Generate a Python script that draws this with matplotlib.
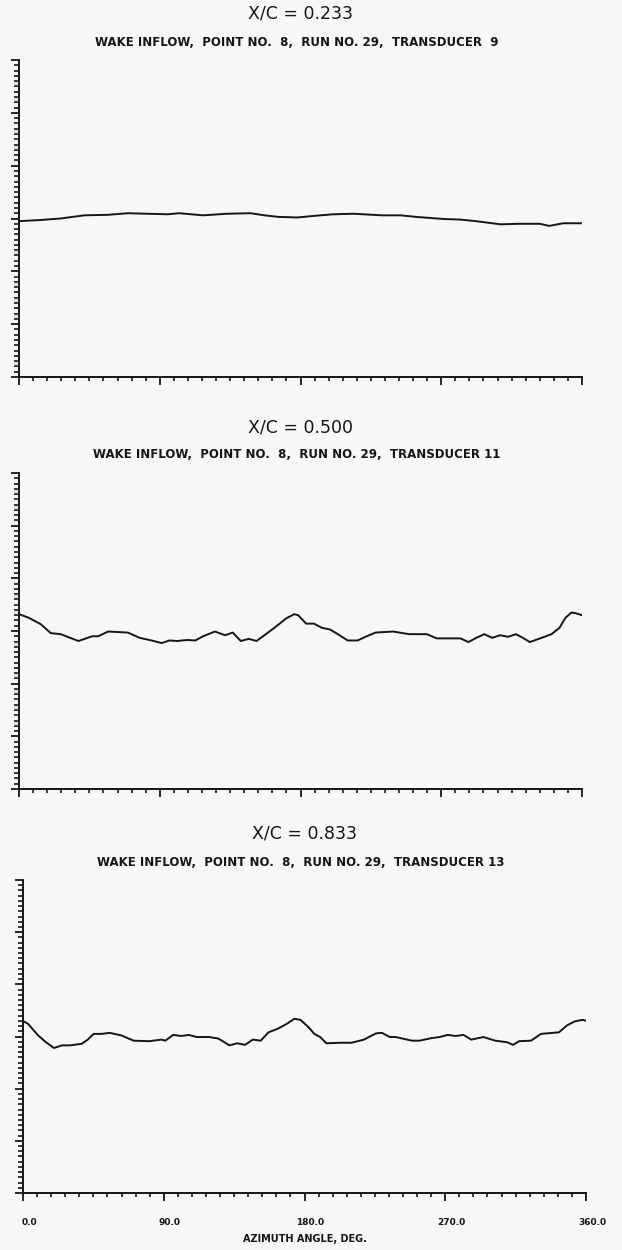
import matplotlib
matplotlib.use("Agg")
import matplotlib.pyplot as plt
from matplotlib.ticker import MultipleLocator, NullFormatter
from matplotlib.transforms import ScaledTranslation

# azimuth (deg) and inflow for each transducer
az_9 = [0, 13, 26.6, 41.8, 57, 69.6, 82, 95, 102.5, 117.7, 133, 148, 157, 166,
        178, 189, 201, 214, 232, 244, 254, 263, 272, 282, 292, 308, 320, 333,
        339, 348, 360]
val_9 = [-0.05, -0.03, 0.0, 0.06, 0.07, 0.10, 0.09, 0.08, 0.10, 0.06, 0.09,
         0.10, 0.06, 0.03, 0.02, 0.05, 0.08, 0.09, 0.06, 0.06, 0.03, 0.01,
         -0.01, -0.02, -0.05, -0.11, -0.10, -0.10, -0.14, -0.09, -0.09]

az_11 = [0, 6.3, 13.9, 20.3, 26.6, 38, 46.8, 50.6, 57, 69.6, 77.2, 84.8, 91.2,
         96.2, 101.3, 107.6, 112.7, 117.7, 125.3, 131.7, 136.7, 141.8, 146.9,
         151.9, 163.3, 170.9, 176, 178.5, 183.6, 188.6, 193.7, 198.8, 203.8,
         210.2, 216.5, 221.6, 227.9, 239.3, 249.4, 260.8, 267.1, 282.3, 287.4,
         292.4, 297.5, 302.6, 307.6, 312.7, 317.8, 322.8, 326.6, 334.2, 340.5,
         345.6, 349.4, 353.2, 355.7, 360]
val_11 = [0.32, 0.25, 0.13, -0.04, -0.06, -0.19, -0.10, -0.10, -0.01, -0.03,
          -0.13, -0.18, -0.23, -0.18, -0.19, -0.17, -0.18, -0.10, -0.01, -0.08,
          -0.03, -0.19, -0.15, -0.19, 0.06, 0.24, 0.32, 0.30, 0.14, 0.14, 0.06,
          0.03, -0.06, -0.18, -0.18, -0.11, -0.03, -0.01, -0.06, -0.06, -0.14,
          -0.14, -0.21, -0.13, -0.06, -0.13, -0.08, -0.11, -0.06, -0.14, -0.21,
          -0.13, -0.06, 0.06, 0.25, 0.35, 0.34, 0.30]

az_13 = [0, 3.3, 9.7, 14.7, 19.8, 24.9, 30, 37.6, 41.4, 45.2, 50.3, 55.4, 63,
         70.7, 80.8, 88.5, 91, 96, 101, 106, 111, 119, 125, 132, 137, 142, 147,
         152, 157, 163, 168.5, 173.6, 177.4, 182.5, 186.3, 190, 194, 203, 210,
         218, 225.7, 229.5, 234.6, 238.4, 248.6, 253.7, 261.3, 266.4, 271.5,
         276.6, 281.7, 286.7, 294.4, 302, 309.6, 313.4, 317.2, 324.9, 331.2,
         338.8, 342.7, 347.7, 352.8, 357.9, 360]
val_13 = [0.30, 0.24, 0.02, -0.11, -0.22, -0.17, -0.17, -0.14, -0.06, 0.05,
          0.05, 0.07, 0.02, -0.08, -0.09, -0.06, -0.08, 0.03, 0.01, 0.03,
          -0.01, -0.01, -0.04, -0.17, -0.13, -0.16, -0.06, -0.08, 0.08, 0.15,
          0.24, 0.34, 0.32, 0.18, 0.05, -0.01, -0.13, -0.12, -0.12, -0.06,
          0.06, 0.07, -0.01, -0.01, -0.08, -0.08, -0.03, -0.01, 0.03, 0.01,
          0.03, -0.06, -0.01, -0.08, -0.11, -0.16, -0.09, -0.08, 0.05, 0.07,
          0.08, 0.21, 0.29, 0.32, 0.30]

titles = ["X/C = 0.233", "X/C = 0.500", "X/C = 0.833"]
subtitles = ["WAKE INFLOW,  POINT NO.  8,  RUN NO. 29,  TRANSDUCER  9",
             "WAKE INFLOW,  POINT NO.  8,  RUN NO. 29,  TRANSDUCER 11",
             "WAKE INFLOW,  POINT NO.  8,  RUN NO. 29,  TRANSDUCER 13"]
xticks = [0, 90, 180, 270, 360]

W, H = 622, 1250
bg = "#f7f7f7"
ink = "#151515"
fig = plt.figure(figsize=(W / 100, H / 100), dpi=100, facecolor=bg)

# panel boxes in pixels: left, right, top, bottom
boxes = [(19, 582, 60, 377), (19, 582, 473, 789), (23, 586, 880, 1193)]
series = [(az_9, val_9), (az_11, val_11), (az_13, val_13)]

for i, ((l, r, t, b), (x, y)) in enumerate(zip(boxes, series)):
    ax = fig.add_axes([l / W, 1 - b / H, (r - l) / W, (b - t) / H])
    ax.set_facecolor(bg)
    ax.plot(x, y, color=ink, lw=1.4, solid_joinstyle="round")
    ax.set_xlim(0, 360)
    ax.set_ylim(-3, 3)
    for s in ("top", "right"):
        ax.spines[s].set_visible(False)
    for s in ("left", "bottom"):
        ax.spines[s].set_linewidth(1.4)
        ax.spines[s].set_color(ink)
    ax.xaxis.set_major_locator(MultipleLocator(90))
    ax.xaxis.set_minor_locator(MultipleLocator(9))
    ax.yaxis.set_major_locator(MultipleLocator(1))
    ax.yaxis.set_minor_locator(MultipleLocator(0.1))
    ax.tick_params(axis="x", which="major", direction="out", length=6,
                   width=1.3, color=ink)
    ax.tick_params(axis="x", which="minor", direction="out", length=3.2,
                   width=1.2, color=ink)
    ax.tick_params(axis="y", which="major", direction="out", length=6,
                   width=1.3, color=ink, labelleft=False)
    ax.tick_params(axis="y", which="minor", direction="out", length=3.5,
                   width=1.2, color=ink)
    ax.yaxis.set_major_formatter(NullFormatter())

    if i == 2:
        ax.set_xticks(xticks)
        ax.set_xticklabels(["%.1f" % v for v in xticks], fontsize=6.5,
                           fontweight="bold", color=ink)
        ax.tick_params(axis="x", which="major", pad=12)
        shift = ScaledTranslation(6 / 100, 0, fig.dpi_scale_trans)
        for lab in ax.get_xticklabels():
            lab.set_transform(lab.get_transform() + shift)
        ax.set_xlabel("AZIMUTH ANGLE, DEG.", fontsize=7, fontweight="bold",
                      color=ink, labelpad=5)
    else:
        ax.xaxis.set_major_formatter(NullFormatter())

    cx = (l + r) / 2 / W
    fig.text(cx, 1 - (t - 46) / H, titles[i], ha="center", va="center",
             fontsize=12.5, color=ink)
    fig.text(cx - 4 / W, 1 - (t - 18) / H, subtitles[i], ha="center",
             va="center", fontsize=8.5, fontweight="bold", color=ink)

fig.savefig("out.png", dpi=100, facecolor=bg)
